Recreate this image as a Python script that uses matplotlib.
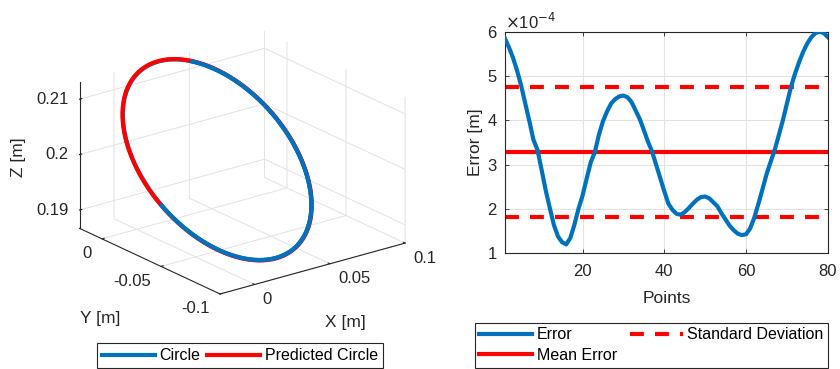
import numpy as np
import matplotlib
matplotlib.use("Agg")
import matplotlib.pyplot as plt
from matplotlib.transforms import IdentityTransform
from mpl_toolkits.mplot3d import proj3d
from matplotlib.lines import Line2D

plt.rcParams['font.family'] = ['Liberation Sans', 'DejaVu Sans']
plt.rcParams['axes.unicode_minus'] = False
plt.rcParams['lines.scale_dashes'] = False

# ---------------- data ----------------
# circle (reference) and predicted circle, metres
circle_center = [0.030, -0.030, 0.200]
circle_radius = 0.050
circle_normal = [0.010, -0.260, 0.966]
pred_center = [0.0300, -0.0300, 0.2000]
pred_radius = 0.0502

x_ticks = [0, 0.05, 0.1]
x_ticklabels = ['0', '0.05', '0.1']
y_ticks = [-0.1, -0.05, 0]
y_ticklabels = ['-0.1', '-0.05', '0']
z_ticks = [0.19, 0.2, 0.21]
z_ticklabels = ['0.19', '0.2', '0.21']

# error per point, units of 1e-4 m
points = list(range(1, 81))
error_e4 = [5.85, 5.65, 5.41, 5.12, 4.78, 4.38, 3.98, 3.56, 3.33, 2.88,
            2.42, 2.02, 1.64, 1.38, 1.25, 1.20, 1.34, 1.64, 2.00, 2.30,
            2.68, 3.05, 3.28, 3.67, 3.98, 4.20, 4.38, 4.48, 4.54, 4.56,
            4.52, 4.41, 4.22, 4.03, 3.78, 3.52, 3.30, 3.00, 2.70, 2.40,
            2.12, 1.98, 1.89, 1.87, 1.93, 2.02, 2.12, 2.21, 2.27, 2.28,
            2.24, 2.15, 2.06, 1.90, 1.76, 1.62, 1.52, 1.44, 1.41, 1.43,
            1.56, 1.80, 2.11, 2.44, 2.78, 3.06, 3.33, 3.66, 4.00, 4.38,
            4.76, 5.06, 5.32, 5.55, 5.74, 5.88, 5.97, 6.00, 5.97, 5.88]
mean_error_e4 = 3.28
std_error_e4 = 1.47
err_yticks = [1, 2, 3, 4, 5, 6]
err_xticks = [20, 40, 60, 80]

BLUE = '#0072BD'
RED = '#FF0000'
TXT = '#262626'
GRID = '#e2e2e2'
FS = 11.5      # tick / legend text
FL = 12.5      # axis labels

fig = plt.figure(figsize=(8.4, 3.69), dpi=100)

# ---------------- 3D panel ----------------
def circle_pts(c, r, n, m=240):
    n = np.asarray(n, float); n /= np.linalg.norm(n)
    a = np.array([1.0, 0, 0])
    u = a - n * np.dot(a, n); u /= np.linalg.norm(u)
    v = np.cross(n, u)
    t = np.linspace(0, 2 * np.pi, m)
    p = np.asarray(c)[:, None] + r * (np.outer(u, np.cos(t)) + np.outer(v, np.sin(t)))
    return p

ax3 = fig.add_axes([0.003, 0.087, 0.56, 0.92], projection='3d')
ax3.set_proj_type('ortho')
ax3.view_init(elev=21, azim=-127.5)
ax3.set_box_aspect((1, 0.99, 0.672), zoom=1.04)
ax3.computed_zorder = False
xlim3, ylim3, zlim3 = (-0.023, 0.1), (-0.1, 0.019), (0.1867, 0.2131)
ax3.set_xlim(*xlim3)
ax3.set_ylim(*ylim3)
ax3.set_zlim(*zlim3)
ax3.set_xticks(x_ticks); ax3.set_xticklabels([''] * len(x_ticks))
ax3.set_yticks(y_ticks); ax3.set_yticklabels([''] * len(y_ticks))
ax3.set_zticks(z_ticks); ax3.set_zticklabels([''] * len(z_ticks))
for axis in (ax3.xaxis, ax3.yaxis, ax3.zaxis):
    axis.set_pane_color((1, 1, 1, 0))
    axis.pane.set_edgecolor('#d8d8d8')
    axis._axinfo['grid'].update(color=GRID, linewidth=0.7)
    axis._axinfo['tick']['inward_factor'] = 0.0
    axis._axinfo['tick']['outward_factor'] = 0.15
    axis.line.set_color(TXT)
    axis.line.set_linewidth(0.8)
ax3.tick_params(colors=TXT)

P = circle_pts(circle_center, circle_radius, circle_normal)
Q = circle_pts(pred_center, pred_radius, circle_normal)
ax3.plot(P[0], P[1], P[2], color=BLUE, lw=3.0, zorder=3, solid_capstyle='butt')
ax3.plot(Q[0], Q[1], Q[2], color=RED, lw=3.0, zorder=4, solid_capstyle='butt')

fig.canvas.draw()
M = ax3.get_proj()

def to_disp(xs, ys, zs):
    px, py, _ = proj3d.proj_transform(np.atleast_1d(xs), np.atleast_1d(ys),
                                      np.atleast_1d(zs), M)
    return ax3.transData.transform(np.column_stack([px, py]))

# blue drawn over red except on the upper-left arc (as seen in the view)
disp = to_disp(P[0], P[1], P[2])
cx, cy = disp[:, 0].mean(), disp[:, 1].mean()
ang = np.degrees(np.arctan2(disp[:, 1] - cy, disp[:, 0] - cx)) % 360
front = ~((ang > 106) & (ang < 217))
Pm = np.where(front[None, :], P, np.nan)
ax3.plot(Pm[0], Pm[1], Pm[2], color=BLUE, lw=3.0, zorder=5, solid_capstyle='butt')

# tick labels placed MATLAB-style next to the projected ticks
idt = IdentityTransform()
FT3 = 12
for v, s in zip(x_ticks, x_ticklabels):
    d = to_disp(v, ylim3[0], zlim3[0])[0]
    fig.text(d[0] + 8, d[1] - 15, s, transform=idt, fontsize=FT3, color=TXT,
             ha='left', va='center')
for v, s in zip(y_ticks, y_ticklabels):
    d = to_disp(xlim3[0], v, zlim3[0])[0]
    fig.text(d[0] - 10, d[1] - 15, s, transform=idt, fontsize=FT3, color=TXT,
             ha='right', va='center')
for v, s in zip(z_ticks, z_ticklabels):
    d = to_disp(xlim3[0], ylim3[1], v)[0]
    fig.text(d[0] - 11, d[1], s, transform=idt, fontsize=FT3, color=TXT,
             ha='right', va='center')

# axis labels (horizontal, as in the reference)
fig.text(18 / 840, 1 - 157 / 369, 'Z [m]', rotation=90, fontsize=FL, color=TXT,
         ha='center', va='center')
fig.text(100 / 840, 1 - 318 / 369, 'Y [m]', fontsize=FL, color=TXT,
         ha='center', va='center')
fig.text(345 / 840, 1 - 322 / 369, 'X [m]', fontsize=FL, color=TXT,
         ha='center', va='center')

h_c = Line2D([], [], color=BLUE, lw=3.0)
h_p = Line2D([], [], color=RED, lw=3.0)
leg1 = fig.legend([h_c, h_p], ['Circle', 'Predicted Circle'], loc='upper center',
                  bbox_to_anchor=(0.2857, 0.0705), ncol=2, fontsize=FS,
                  fancybox=False, edgecolor=TXT, framealpha=1, handlelength=3.3,
                  columnspacing=0.4, handletextpad=0.3, borderpad=0.32,
                  borderaxespad=0)
leg1.get_frame().set_linewidth(0.8)

# ---------------- error panel ----------------
ax = fig.add_axes([0.601, 0.3136, 0.3845, 0.6005])
ax.plot(points, error_e4, color=BLUE, lw=3.0, zorder=3)
ax.axhline(mean_error_e4, color=RED, lw=3.0, zorder=2)
ax.axhline(mean_error_e4 + std_error_e4, color=RED, lw=3.0, dashes=(10, 8), zorder=2)
ax.axhline(mean_error_e4 - std_error_e4, color=RED, lw=3.0, dashes=(10, 8), zorder=2)
ax.set_xlim(1, 80)
ax.set_ylim(1, 6)
ax.set_xticks(err_xticks)
ax.set_yticks(err_yticks)
ax.grid(True, color=GRID, lw=0.8)
ax.set_axisbelow(True)
ax.tick_params(direction='in', top=True, right=True, labelsize=FS + 0.5,
               colors=TXT, length=3, width=0.6)
ax.tick_params(axis='x', pad=8)
ax.tick_params(axis='y', pad=6)
for s in ax.spines.values():
    s.set_color(TXT); s.set_linewidth(0.8)
ax.set_xlabel('Points', fontsize=FL, color=TXT, labelpad=8)
ax.set_ylabel('Error [m]', fontsize=FL, color=TXT, labelpad=3)
ax.text(0.0, 1.0, r'$\times$10$^{-4}$', transform=ax.transAxes, fontsize=12,
        color=TXT, ha='left', va='bottom')

h_e = Line2D([], [], color=BLUE, lw=3.0)
h_m = Line2D([], [], color=RED, lw=3.0)
h_s = Line2D([], [], color=RED, lw=3.0, dashes=(10, 8))
leg2 = fig.legend([h_e, h_m, h_s], ['Error', 'Mean Error', 'Standard Deviation'],
                  loc='upper center', bbox_to_anchor=(0.7756, 0.1255), ncol=2,
                  fontsize=FS, fancybox=False, edgecolor=TXT, framealpha=1,
                  handlelength=3.3, columnspacing=0.8, handletextpad=0.3,
                  borderpad=0.3, labelspacing=0.35, borderaxespad=0)
leg2.get_frame().set_linewidth(0.8)

fig.savefig('out.png', dpi=100)
